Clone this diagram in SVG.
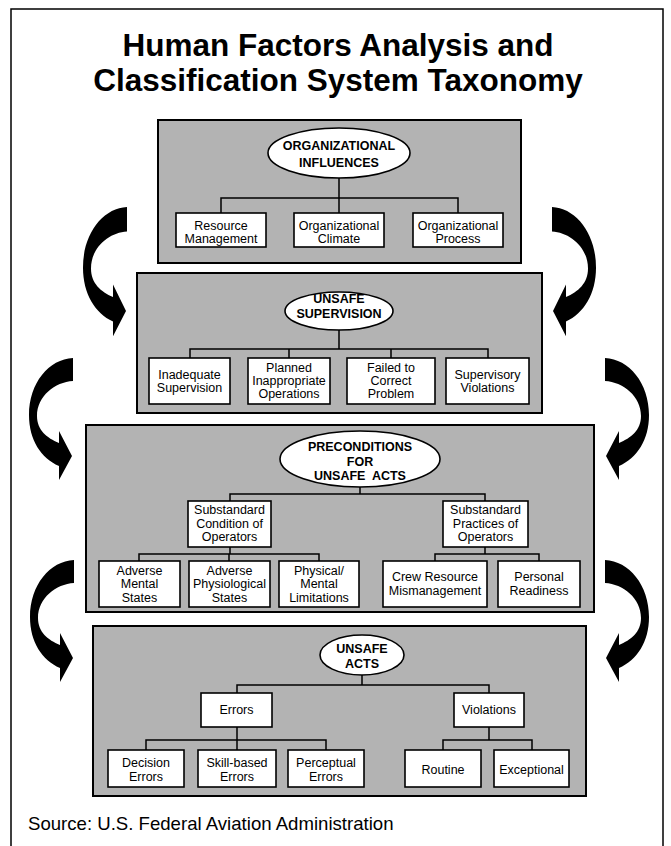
<svg xmlns="http://www.w3.org/2000/svg" xmlns:xlink="http://www.w3.org/1999/xlink" width="671" height="846" viewBox="0 0 671 846">
<style>
.frame{fill:#fff;stroke:#000;stroke-width:1.5}
.panel{fill:#b3b3b3;stroke:#000;stroke-width:2}
.box{fill:#fff;stroke:#000;stroke-width:1.6}
.oval{fill:#fff;stroke:#000;stroke-width:1.6}
.conn{fill:none;stroke:#000;stroke-width:1.5}
.arrow{fill:#000;stroke:none}
text{font-family:"Liberation Sans",Arial,sans-serif;fill:#000;text-anchor:middle}
.title{font-size:31.5px;font-weight:bold}
.head{font-size:12.5px;font-weight:bold}
.lbl{font-size:12.5px}
.src{font-size:18.6px;text-anchor:start}
</style>
<defs>
<path id="arr" d="M0,0 L0,23 C-18,24 -36,38 -36,58 C-36,72 -26,80 -14,85 L-14,73 L-1,98 L-14,122 L-14,108 C-32,100 -44,82 -44,57 C-44,25 -24,1 0,0 Z"/>
</defs>
<rect class="frame" x="11" y="9" width="652" height="900"/>
<text class="title" x="338" y="56">Human Factors Analysis and</text>
<text class="title" x="338" y="91">Classification System Taxonomy</text>

<g id="arrows" class="arrow">
<use xlink:href="#arr" transform="translate(127,207) scale(1,1.06)"/>
<use xlink:href="#arr" transform="translate(552,207) scale(-1,1.06)"/>
<use xlink:href="#arr" transform="translate(73,358)"/>
<use xlink:href="#arr" transform="translate(605,358) scale(-1,1)"/>
<use xlink:href="#arr" transform="translate(74,560)"/>
<use xlink:href="#arr" transform="translate(605,560) scale(-1,1)"/>
</g>

<g id="panel-org"><rect class="panel" x="158" y="120" width="363" height="143"/></g>
<g id="panel-sup"><rect class="panel" x="137" y="273" width="405" height="140"/></g>
<g id="panel-pre"><rect class="panel" x="86" y="425" width="508" height="187"/></g>
<g id="panel-acts"><rect class="panel" x="93" y="626" width="493" height="170"/></g>

<g id="connectors" class="conn">
<path d="M339,178V198M221,213V198H458V213M339,198V213"/>
<path d="M339,330V349M190,358V349H488V358M289,349V358M391,349V358"/>
<path d="M360,487V494M230,501V494H485V501"/>
<path d="M230,547V554M139,561V554H319V561M229,554V561"/>
<path d="M485,547V554M435,561V554H539V561"/>
<path d="M362,675V685M237,693V685H489V693"/>
<path d="M237,727V740M146,750V740H326V750M237,740V750"/>
<path d="M489,727V740M443,750V740H532V750"/>
</g>

<g id="org-influences"><ellipse class="oval" cx="339" cy="153" rx="71" ry="25"/><text class="head" x="339" y="149.5">ORGANIZATIONAL</text><text class="head" x="339" y="166.5">INFLUENCES</text></g>
<g id="resource-management"><rect class="box" x="176" y="213" width="90" height="34"/><text class="lbl" x="221" y="229.5">Resource</text><text class="lbl" x="221" y="242.5">Management</text></g>
<g id="org-climate"><rect class="box" x="294" y="213" width="90" height="34"/><text class="lbl" x="339" y="229.5">Organizational</text><text class="lbl" x="339" y="242.5">Climate</text></g>
<g id="org-process"><rect class="box" x="413" y="213" width="90" height="34"/><text class="lbl" x="458" y="229.5">Organizational</text><text class="lbl" x="458" y="242.5">Process</text></g>

<g id="unsafe-supervision"><ellipse class="oval" cx="339" cy="311" rx="54" ry="19"/><text class="head" x="339" y="302.5">UNSAFE</text><text class="head" x="339" y="317.5">SUPERVISION</text></g>
<g id="inadequate-supervision"><rect class="box" x="149" y="358" width="81" height="46"/><text class="lbl" x="189.5" y="379">Inadequate</text><text class="lbl" x="189.5" y="392">Supervision</text></g>
<g id="planned-ops"><rect class="box" x="248" y="358" width="82" height="46"/><text class="lbl" x="289" y="372">Planned</text><text class="lbl" x="289" y="385">Inappropriate</text><text class="lbl" x="289" y="398">Operations</text></g>
<g id="failed-correct"><rect class="box" x="347" y="358" width="88" height="46"/><text class="lbl" x="391" y="372">Failed to</text><text class="lbl" x="391" y="385">Correct</text><text class="lbl" x="391" y="398">Problem</text></g>
<g id="supervisory-violations"><rect class="box" x="446" y="358" width="83" height="46"/><text class="lbl" x="487.5" y="379">Supervisory</text><text class="lbl" x="487.5" y="392">Violations</text></g>

<g id="preconditions"><ellipse class="oval" cx="360" cy="459" rx="80" ry="28"/><text class="head" x="360" y="450.5">PRECONDITIONS</text><text class="head" x="360" y="465.5">FOR</text><text class="head" x="360" y="479.5" xml:space="preserve">UNSAFE  ACTS</text></g>
<g id="substandard-condition"><rect class="box" x="188" y="501" width="83" height="46"/><text class="lbl" x="229.5" y="514">Substandard</text><text class="lbl" x="229.5" y="528">Condition of</text><text class="lbl" x="229.5" y="541">Operators</text></g>
<g id="substandard-practices"><rect class="box" x="443" y="501" width="85" height="46"/><text class="lbl" x="485.5" y="514">Substandard</text><text class="lbl" x="485.5" y="528">Practices of</text><text class="lbl" x="485.5" y="541">Operators</text></g>
<g id="adverse-mental"><rect class="box" x="99" y="561" width="81" height="46"/><text class="lbl" x="139.5" y="575">Adverse</text><text class="lbl" x="139.5" y="588">Mental</text><text class="lbl" x="139.5" y="602">States</text></g>
<g id="adverse-physio"><rect class="box" x="189" y="561" width="81" height="46"/><text class="lbl" x="229.5" y="575">Adverse</text><text class="lbl" x="229.5" y="588">Physiological</text><text class="lbl" x="229.5" y="602">States</text></g>
<g id="physical-mental"><rect class="box" x="279" y="561" width="80" height="46"/><text class="lbl" x="319" y="575">Physical/</text><text class="lbl" x="319" y="588">Mental</text><text class="lbl" x="319" y="602">Limitations</text></g>
<g id="crew-resource"><rect class="box" x="383" y="561" width="104" height="46"/><text class="lbl" x="435" y="581">Crew Resource</text><text class="lbl" x="435" y="595">Mismanagement</text></g>
<g id="personal-readiness"><rect class="box" x="498" y="561" width="82" height="46"/><text class="lbl" x="539" y="581">Personal</text><text class="lbl" x="539" y="595">Readiness</text></g>

<g id="unsafe-acts"><ellipse class="oval" cx="362" cy="655" rx="42" ry="20"/><text class="head" x="362" y="652.5">UNSAFE</text><text class="head" x="362" y="667.5">ACTS</text></g>
<g id="errors"><rect class="box" x="201" y="693" width="71" height="34"/><text class="lbl" x="236.5" y="714">Errors</text></g>
<g id="violations"><rect class="box" x="454" y="693" width="70" height="34"/><text class="lbl" x="489" y="714">Violations</text></g>
<g id="decision-errors"><rect class="box" x="108" y="750" width="76" height="37"/><text class="lbl" x="146" y="767">Decision</text><text class="lbl" x="146" y="781">Errors</text></g>
<g id="skill-errors"><rect class="box" x="198" y="750" width="78" height="37"/><text class="lbl" x="237" y="767">Skill-based</text><text class="lbl" x="237" y="781">Errors</text></g>
<g id="perceptual-errors"><rect class="box" x="288" y="750" width="76" height="37"/><text class="lbl" x="326" y="767">Perceptual</text><text class="lbl" x="326" y="781">Errors</text></g>
<g id="routine"><rect class="box" x="405" y="750" width="76" height="37"/><text class="lbl" x="443" y="774">Routine</text></g>
<g id="exceptional"><rect class="box" x="494" y="750" width="75" height="37"/><text class="lbl" x="531.5" y="774">Exceptional</text></g>

<text class="src" x="28" y="830">Source: U.S. Federal Aviation Administration</text>
</svg>
